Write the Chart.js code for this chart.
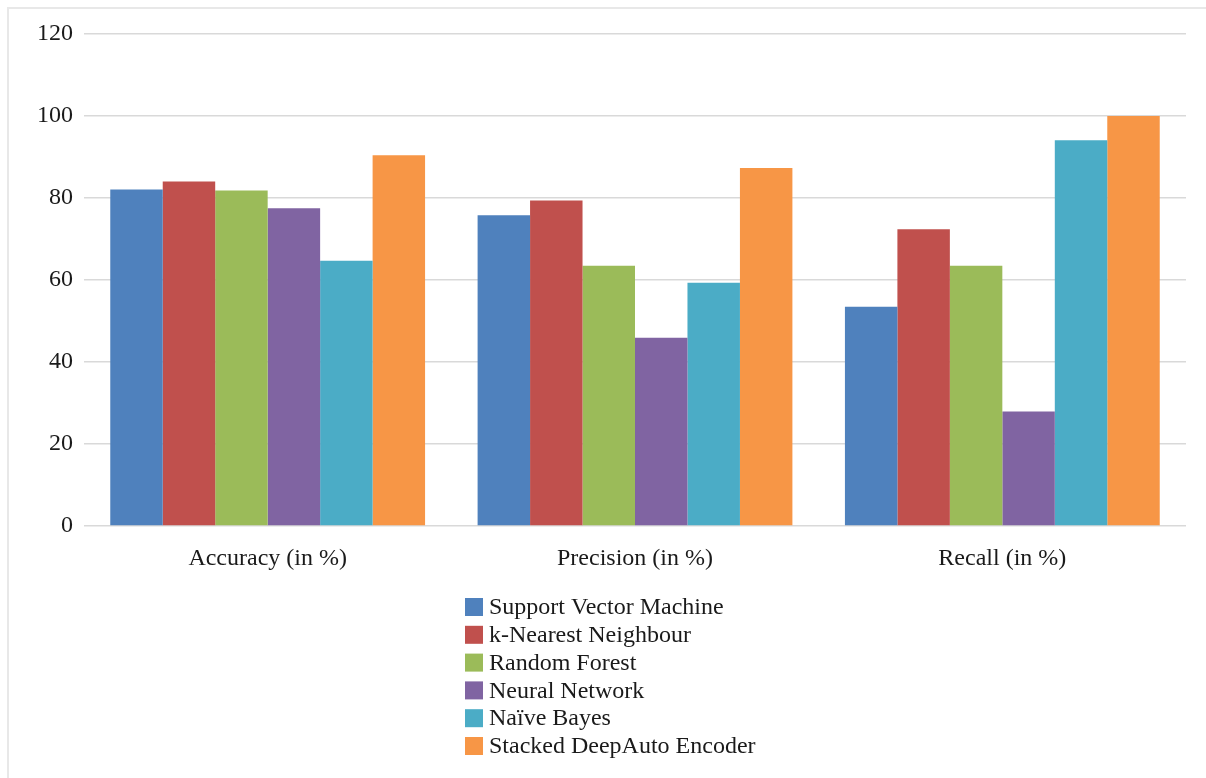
<!DOCTYPE html>
<html>
<head>
<meta charset="utf-8">
<script src="https://cdn.jsdelivr.net/npm/chart.js@4.4.1/dist/chart.umd.min.js"></script>
<style>
  html, body { margin: 0; padding: 0; background: #fff; }
  #wrap {
    position: relative;
    width: 1206px; height: 778px;
    box-sizing: border-box;
  }
  /* thin frame along top and left edges */
  #frame {
    position: absolute; left: 7px; top: 7px; right: 0; bottom: 0;
    border-top: 2px solid #e8e8e8;
    border-left: 2px solid #e8e8e8;
    pointer-events: none;
  }
  canvas { position: absolute; left: 0; top: 0; }
</style>
</head>
<body>
<div id="wrap">
  <canvas id="chart" width="1206" height="778"></canvas>
  <div id="frame"></div>
</div>
<script>
const categories = ['Accuracy (in %)', 'Precision (in %)', 'Recall (in %)'];

const svm  = [82.1, 75.8, 53.5];
const knn  = [84.0, 79.4, 72.4];
const rf   = [81.8, 63.5, 63.5];
const nn   = [77.5, 45.9, 27.9];
const nb   = [64.7, 59.3, 94.1];
const sdae = [90.4, 87.3, 100.0];

const yTicks = [0, 20, 40, 60, 80, 100, 120];

const FONT = '"Liberation Serif", "Times New Roman", serif';

// one legend entry per line, under the plot
const stackedLegend = {
    id: 'stackedLegend',
    afterDraw(chart) {
        const ctx = chart.ctx;
        const x0 = 465, y0 = 598, step = 27.8, box = 18;
        ctx.save();
        ctx.font = '24px ' + FONT;
        ctx.textBaseline = 'middle';
        ctx.textAlign = 'left';
        chart.data.datasets.forEach(function(ds, i) {
            const y = y0 + i * step;
            ctx.fillStyle = ds.backgroundColor;
            ctx.fillRect(x0, y, box, box);
            ctx.fillStyle = '#1a1a1a';
            ctx.fillText(ds.label, x0 + box + 6, y + box / 2 + 1);
        });
        ctx.restore();
    }
};

new Chart(document.getElementById('chart'), {
    type: 'bar',
    data: {
        labels: categories,
        datasets: [
            { label: 'Support Vector Machine', data: svm, backgroundColor: '#4f81bd' },
            { label: 'k-Nearest Neighbour', data: knn, backgroundColor: '#c0504d' },
            { label: 'Random Forest', data: rf, backgroundColor: '#9bbb59' },
            { label: 'Neural Network', data: nn, backgroundColor: '#8064a2' },
            { label: 'Naïve Bayes', data: nb, backgroundColor: '#4bacc6' },
            { label: 'Stacked DeepAuto Encoder', data: sdae, backgroundColor: '#f79646' },
        ]
    },
    options: {
        responsive: false,
        animation: false,
        devicePixelRatio: 1,
        layout: { padding: { left: 0, right: 20, top: 34, bottom: 192 } },
        datasets: {
            bar: { categoryPercentage: 0.857, barPercentage: 1.0, borderWidth: 0 }
        },
        scales: {
            x: {
                grid: { display: false },
                border: { display: false },
                ticks: { color: '#1a1a1a', font: { family: FONT, size: 24 }, padding: 10 },
                afterFit(scale) { scale.height = 60; }
            },
            y: {
                min: 0,
                max: 120,
                afterBuildTicks(scale) { scale.ticks = yTicks.map(v => ({ value: v })); },
                grid: { color: '#d9d9d9', lineWidth: 1.5, drawTicks: false },
                border: { display: false },
                ticks: { color: '#1a1a1a', font: { family: FONT, size: 24 }, padding: 11 },
                afterFit(scale) { scale.width = 84; }
            }
        },
        plugins: {
            legend: { display: false },
            tooltip: { enabled: false }
        }
    },
    plugins: [stackedLegend]
});
</script>
</body>
</html>
